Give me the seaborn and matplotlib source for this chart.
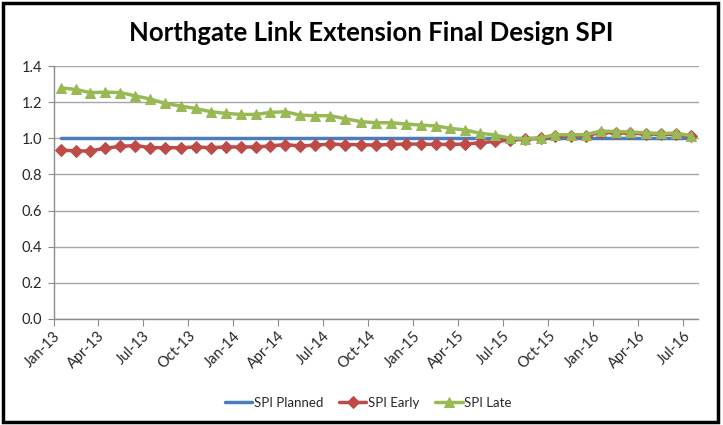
import matplotlib
matplotlib.use("Agg")
import matplotlib.pyplot as plt
import matplotlib.dates as mdates
from matplotlib.patches import Rectangle
import seaborn as sns
import pandas as pd

# ---- data ----
months = pd.date_range("2013-01-01", "2016-07-01", freq="MS")
spi_planned = [1.0] * 43
spi_early = [0.935, 0.930, 0.930, 0.945, 0.955, 0.960, 0.948, 0.948, 0.948, 0.952,
             0.948, 0.952, 0.952, 0.952, 0.958, 0.965, 0.958, 0.962, 0.968, 0.965,
             0.965, 0.962, 0.966, 0.968, 0.968, 0.966, 0.966, 0.968, 0.975, 0.983,
             0.990, 0.995, 1.000, 1.012, 1.014, 1.014, 1.032, 1.030, 1.028, 1.024,
             1.022, 1.022, 1.012]
spi_late = [1.279, 1.270, 1.253, 1.255, 1.253, 1.235, 1.217, 1.193, 1.178, 1.165,
            1.147, 1.138, 1.132, 1.132, 1.143, 1.147, 1.128, 1.125, 1.125, 1.108,
            1.092, 1.086, 1.086, 1.079, 1.073, 1.068, 1.055, 1.046, 1.028, 1.018,
            1.000, 0.997, 1.003, 1.020, 1.020, 1.020, 1.040, 1.037, 1.035, 1.030,
            1.027, 1.028, 1.015]
series_names = ["SPI Planned", "SPI Early", "SPI Late"]
title = "Northgate Link Extension Final Design SPI"

# points sit mid-month (Excel date axis, between tick marks)
x_mid = months + pd.Timedelta(days=15)
df = pd.DataFrame({"date": x_mid, "SPI Planned": spi_planned,
                   "SPI Early": spi_early, "SPI Late": spi_late})

sns.set_style("white")
plt.rcParams["font.family"] = ["Lato", "DejaVu Sans"]

W, H = 723, 425
fig = plt.figure(figsize=(W / 100, H / 100), dpi=100)
ax = fig.add_axes([53.5 / W, 1 - 319 / H, (698.5 - 53.5) / W, (319 - 66) / H])

colors = {"SPI Planned": "#4A7EBB", "SPI Early": "#BE4B48", "SPI Late": "#98B954"}
markers = {"SPI Planned": None, "SPI Early": "D", "SPI Late": "^"}
msizes = {"SPI Planned": 0, "SPI Early": 6, "SPI Late": 7.5}

for name in series_names:
    sns.lineplot(data=df, x="date", y=name, ax=ax, color=colors[name],
                 marker=markers[name], markersize=msizes[name],
                 markeredgecolor=colors[name], linewidth=2.5, label=name,
                 legend=False)

ax.set_xlim(pd.Timestamp("2013-01-01"), pd.Timestamp("2016-08-01"))
ax.set_ylim(0, 1.4)
ax.set_yticks([0, 0.2, 0.4, 0.6, 0.8, 1.0, 1.2, 1.4])
ax.yaxis.set_major_formatter(matplotlib.ticker.FormatStrFormatter("%.1f"))
ax.xaxis.set_major_locator(mdates.MonthLocator(bymonth=[1, 4, 7, 10]))
ax.xaxis.set_major_formatter(mdates.DateFormatter("%b-%y"))
ax.set_xlabel("")
ax.set_ylabel("")

ax.grid(axis="y", color="#A6A6A6", linewidth=1)
ax.grid(axis="x", visible=False)
for s in ["top", "right"]:
    ax.spines[s].set_visible(False)
for s in ["left", "bottom"]:
    ax.spines[s].set_color("#8C8C8C")
    ax.spines[s].set_linewidth(1)

ax.tick_params(axis="y", left=True, length=4, color="#8C8C8C", labelsize=10.5,
               labelcolor="#262626", pad=4)
ax.tick_params(axis="x", bottom=True, length=5, color="#8C8C8C", labelsize=10.5,
               labelcolor="#262626", pad=2)
for lbl in ax.get_xticklabels():
    lbl.set_rotation(45)
    lbl.set_ha("right")
    lbl.set_rotation_mode("anchor")

fig.text(371 / W, 1 - 33 / H, title, ha="center", va="center",
         fontsize=18.5, fontweight="bold", color="black")

handles, labels = ax.get_legend_handles_labels()
fig.legend(handles, labels, loc="center", bbox_to_anchor=(368 / W, 1 - 403 / H),
           ncol=3, frameon=False, fontsize=9.5, handlelength=2.1, numpoints=1,
           handletextpad=0.1, columnspacing=1.2, labelcolor="#262626")

fig.patches.append(Rectangle((3 / W, 3 / H), 715 / W, 419 / H, transform=fig.transFigure,
                             fill=False, edgecolor="black", linewidth=2.5))

fig.savefig("out.png", dpi=100)
